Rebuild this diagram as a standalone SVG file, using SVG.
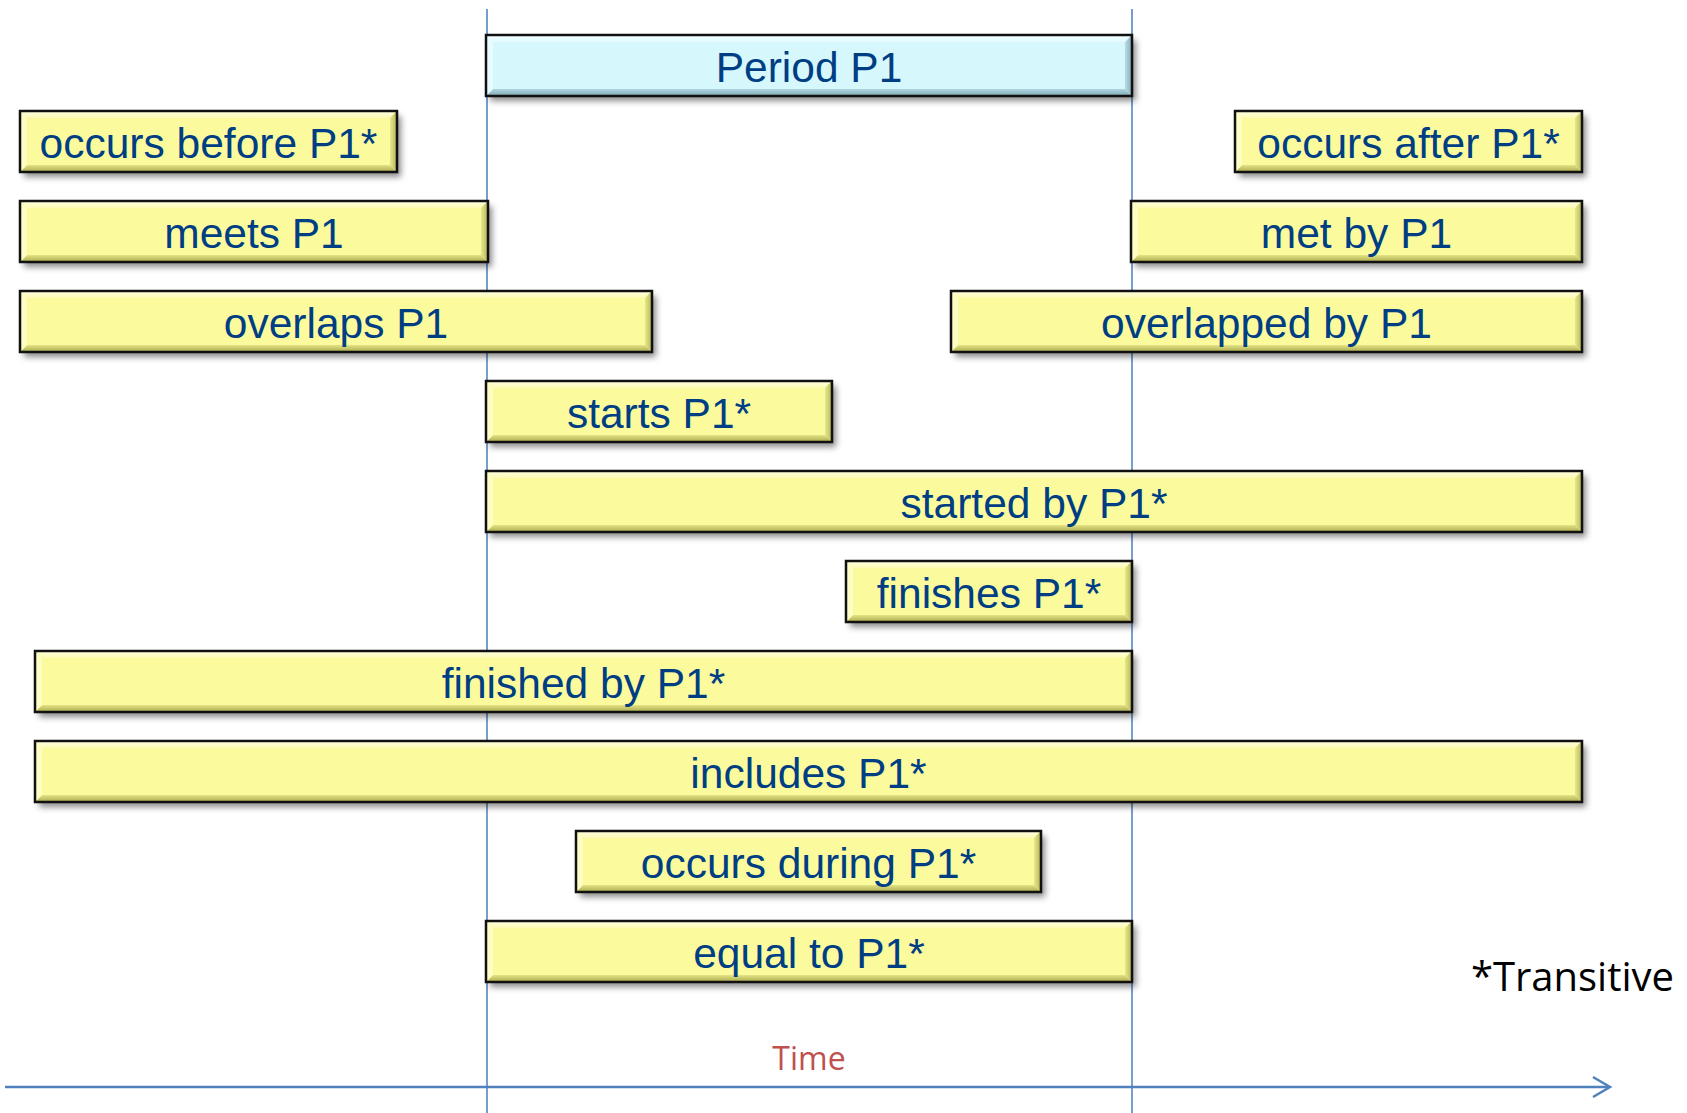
<svg xmlns="http://www.w3.org/2000/svg" width="1687" height="1113" viewBox="0 0 1687 1113">
<defs>
<filter id="sh" x="-5%" y="-30%" width="110%" height="170%">
<feDropShadow dx="4" dy="5" stdDeviation="3" flood-color="#000" flood-opacity="0.45"/>
</filter>
<linearGradient id="gt" x1="0" y1="0" x2="0" y2="1"><stop offset="0" stop-color="#ffffe2"/><stop offset="1" stop-color="#fbfbb4"/></linearGradient>
<linearGradient id="gb" x1="0" y1="0" x2="0" y2="1"><stop offset="0" stop-color="#e4e486"/><stop offset="1" stop-color="#a9a94e"/></linearGradient>
<linearGradient id="gr" x1="0" y1="0" x2="1" y2="0"><stop offset="0" stop-color="#e8e88c"/><stop offset="1" stop-color="#b4b458"/></linearGradient>
<linearGradient id="pt" x1="0" y1="0" x2="0" y2="1"><stop offset="0" stop-color="#f4feff"/><stop offset="1" stop-color="#e2fbff"/></linearGradient>
<linearGradient id="pb" x1="0" y1="0" x2="0" y2="1"><stop offset="0" stop-color="#b0d6e0"/><stop offset="1" stop-color="#7fa6b2"/></linearGradient>
<linearGradient id="pr" x1="0" y1="0" x2="1" y2="0"><stop offset="0" stop-color="#b8dce6"/><stop offset="1" stop-color="#86adb8"/></linearGradient>
<style>
.base{fill:#fbfb9e;filter:url(#sh)}
.bt{fill:url(#gt)}.bb{fill:url(#gb)}.bl{fill:#fdfdc4}.br{fill:url(#gr)}
.p .base{fill:#d6f7fc}.p .bt{fill:url(#pt)}.p .bb{fill:url(#pb)}.p .bl{fill:#e8fbff}.p .br{fill:url(#pr)}
.frame{fill:none;stroke:#111;stroke-width:2.5}
.lbl{font-family:"Liberation Sans",Arial,sans-serif;font-size:42.5px;fill:#003e84;text-anchor:middle}
.vl{stroke:#4a7ebb;stroke-width:1.5;fill:none}
.ax{stroke:#4f81bd;stroke-width:2.5;fill:none}
</style>
</defs>
<rect width="1687" height="1113" fill="#fff"/>
<g id="connectors">
<line class="vl" x1="487" y1="9" x2="487" y2="1113"/>
<line class="vl" x1="1132" y1="9" x2="1132" y2="1113"/>
<line class="ax" x1="5" y1="1087" x2="1609" y2="1087"/>
<polyline class="ax" points="1593,1077 1610,1087 1593,1097"/>
</g>
<g id="period" class="p" transform="translate(486,35)">
<rect class="base" width="646" height="61"/>
<polygon class="bt" points="0,0 646,0 639,7 7,7"/><polygon class="bb" points="0,61 646,61 639,54 7,54"/><polygon class="bl" points="0,0 7,7 7,54 0,61"/><polygon class="br" points="646,0 639,7 639,54 646,61"/>
<rect class="frame" width="646" height="61"/>
<text class="lbl" x="323" y="47">Period P1</text>
</g>
<g id="before" transform="translate(20,111)">
<rect class="base" width="377" height="61"/>
<polygon class="bt" points="0,0 377,0 370,7 7,7"/><polygon class="bb" points="0,61 377,61 370,54 7,54"/><polygon class="bl" points="0,0 7,7 7,54 0,61"/><polygon class="br" points="377,0 370,7 370,54 377,61"/>
<rect class="frame" width="377" height="61"/>
<text class="lbl" x="188.5" y="47">occurs before P1*</text>
</g>
<g id="after" transform="translate(1235,111)">
<rect class="base" width="347" height="61"/>
<polygon class="bt" points="0,0 347,0 340,7 7,7"/><polygon class="bb" points="0,61 347,61 340,54 7,54"/><polygon class="bl" points="0,0 7,7 7,54 0,61"/><polygon class="br" points="347,0 340,7 340,54 347,61"/>
<rect class="frame" width="347" height="61"/>
<text class="lbl" x="173.5" y="47">occurs after P1*</text>
</g>
<g id="meets" transform="translate(20,201)">
<rect class="base" width="468" height="61"/>
<polygon class="bt" points="0,0 468,0 461,7 7,7"/><polygon class="bb" points="0,61 468,61 461,54 7,54"/><polygon class="bl" points="0,0 7,7 7,54 0,61"/><polygon class="br" points="468,0 461,7 461,54 468,61"/>
<rect class="frame" width="468" height="61"/>
<text class="lbl" x="234" y="47">meets P1</text>
</g>
<g id="metby" transform="translate(1131,201)">
<rect class="base" width="451" height="61"/>
<polygon class="bt" points="0,0 451,0 444,7 7,7"/><polygon class="bb" points="0,61 451,61 444,54 7,54"/><polygon class="bl" points="0,0 7,7 7,54 0,61"/><polygon class="br" points="451,0 444,7 444,54 451,61"/>
<rect class="frame" width="451" height="61"/>
<text class="lbl" x="225.5" y="47">met by P1</text>
</g>
<g id="overlaps" transform="translate(20,291)">
<rect class="base" width="632" height="61"/>
<polygon class="bt" points="0,0 632,0 625,7 7,7"/><polygon class="bb" points="0,61 632,61 625,54 7,54"/><polygon class="bl" points="0,0 7,7 7,54 0,61"/><polygon class="br" points="632,0 625,7 625,54 632,61"/>
<rect class="frame" width="632" height="61"/>
<text class="lbl" x="316" y="47">overlaps P1</text>
</g>
<g id="overlappedby" transform="translate(951,291)">
<rect class="base" width="631" height="61"/>
<polygon class="bt" points="0,0 631,0 624,7 7,7"/><polygon class="bb" points="0,61 631,61 624,54 7,54"/><polygon class="bl" points="0,0 7,7 7,54 0,61"/><polygon class="br" points="631,0 624,7 624,54 631,61"/>
<rect class="frame" width="631" height="61"/>
<text class="lbl" x="315.5" y="47">overlapped by P1</text>
</g>
<g id="starts" transform="translate(486,381)">
<rect class="base" width="346" height="61"/>
<polygon class="bt" points="0,0 346,0 339,7 7,7"/><polygon class="bb" points="0,61 346,61 339,54 7,54"/><polygon class="bl" points="0,0 7,7 7,54 0,61"/><polygon class="br" points="346,0 339,7 339,54 346,61"/>
<rect class="frame" width="346" height="61"/>
<text class="lbl" x="173" y="47">starts P1*</text>
</g>
<g id="startedby" transform="translate(486,471)">
<rect class="base" width="1096" height="61"/>
<polygon class="bt" points="0,0 1096,0 1089,7 7,7"/><polygon class="bb" points="0,61 1096,61 1089,54 7,54"/><polygon class="bl" points="0,0 7,7 7,54 0,61"/><polygon class="br" points="1096,0 1089,7 1089,54 1096,61"/>
<rect class="frame" width="1096" height="61"/>
<text class="lbl" x="548" y="47">started by P1*</text>
</g>
<g id="finishes" transform="translate(846,561)">
<rect class="base" width="286" height="61"/>
<polygon class="bt" points="0,0 286,0 279,7 7,7"/><polygon class="bb" points="0,61 286,61 279,54 7,54"/><polygon class="bl" points="0,0 7,7 7,54 0,61"/><polygon class="br" points="286,0 279,7 279,54 286,61"/>
<rect class="frame" width="286" height="61"/>
<text class="lbl" x="143" y="47">finishes P1*</text>
</g>
<g id="finishedby" transform="translate(35,651)">
<rect class="base" width="1097" height="61"/>
<polygon class="bt" points="0,0 1097,0 1090,7 7,7"/><polygon class="bb" points="0,61 1097,61 1090,54 7,54"/><polygon class="bl" points="0,0 7,7 7,54 0,61"/><polygon class="br" points="1097,0 1090,7 1090,54 1097,61"/>
<rect class="frame" width="1097" height="61"/>
<text class="lbl" x="548.5" y="47">finished by P1*</text>
</g>
<g id="includes" transform="translate(35,741)">
<rect class="base" width="1547" height="61"/>
<polygon class="bt" points="0,0 1547,0 1540,7 7,7"/><polygon class="bb" points="0,61 1547,61 1540,54 7,54"/><polygon class="bl" points="0,0 7,7 7,54 0,61"/><polygon class="br" points="1547,0 1540,7 1540,54 1547,61"/>
<rect class="frame" width="1547" height="61"/>
<text class="lbl" x="773.5" y="47">includes P1*</text>
</g>
<g id="during" transform="translate(576,831)">
<rect class="base" width="465" height="61"/>
<polygon class="bt" points="0,0 465,0 458,7 7,7"/><polygon class="bb" points="0,61 465,61 458,54 7,54"/><polygon class="bl" points="0,0 7,7 7,54 0,61"/><polygon class="br" points="465,0 458,7 458,54 465,61"/>
<rect class="frame" width="465" height="61"/>
<text class="lbl" x="232.5" y="47">occurs during P1*</text>
</g>
<g id="equal" transform="translate(486,921)">
<rect class="base" width="646" height="61"/>
<polygon class="bt" points="0,0 646,0 639,7 7,7"/><polygon class="bb" points="0,61 646,61 639,54 7,54"/><polygon class="bl" points="0,0 7,7 7,54 0,61"/><polygon class="br" points="646,0 639,7 639,54 646,61"/>
<rect class="frame" width="646" height="61"/>
<text class="lbl" x="323" y="47">equal to P1*</text>
</g>
<g id="time-label">
<text x="809" y="1070" font-family="'Open Sans',sans-serif" font-size="32" fill="#c0504d" text-anchor="middle">Time</text>
</g>
<g id="transitive-note">
<text x="1674" y="991" font-family="'Open Sans',sans-serif" font-size="40" fill="#000" text-anchor="end">*Transitive</text>
</g>
</svg>
